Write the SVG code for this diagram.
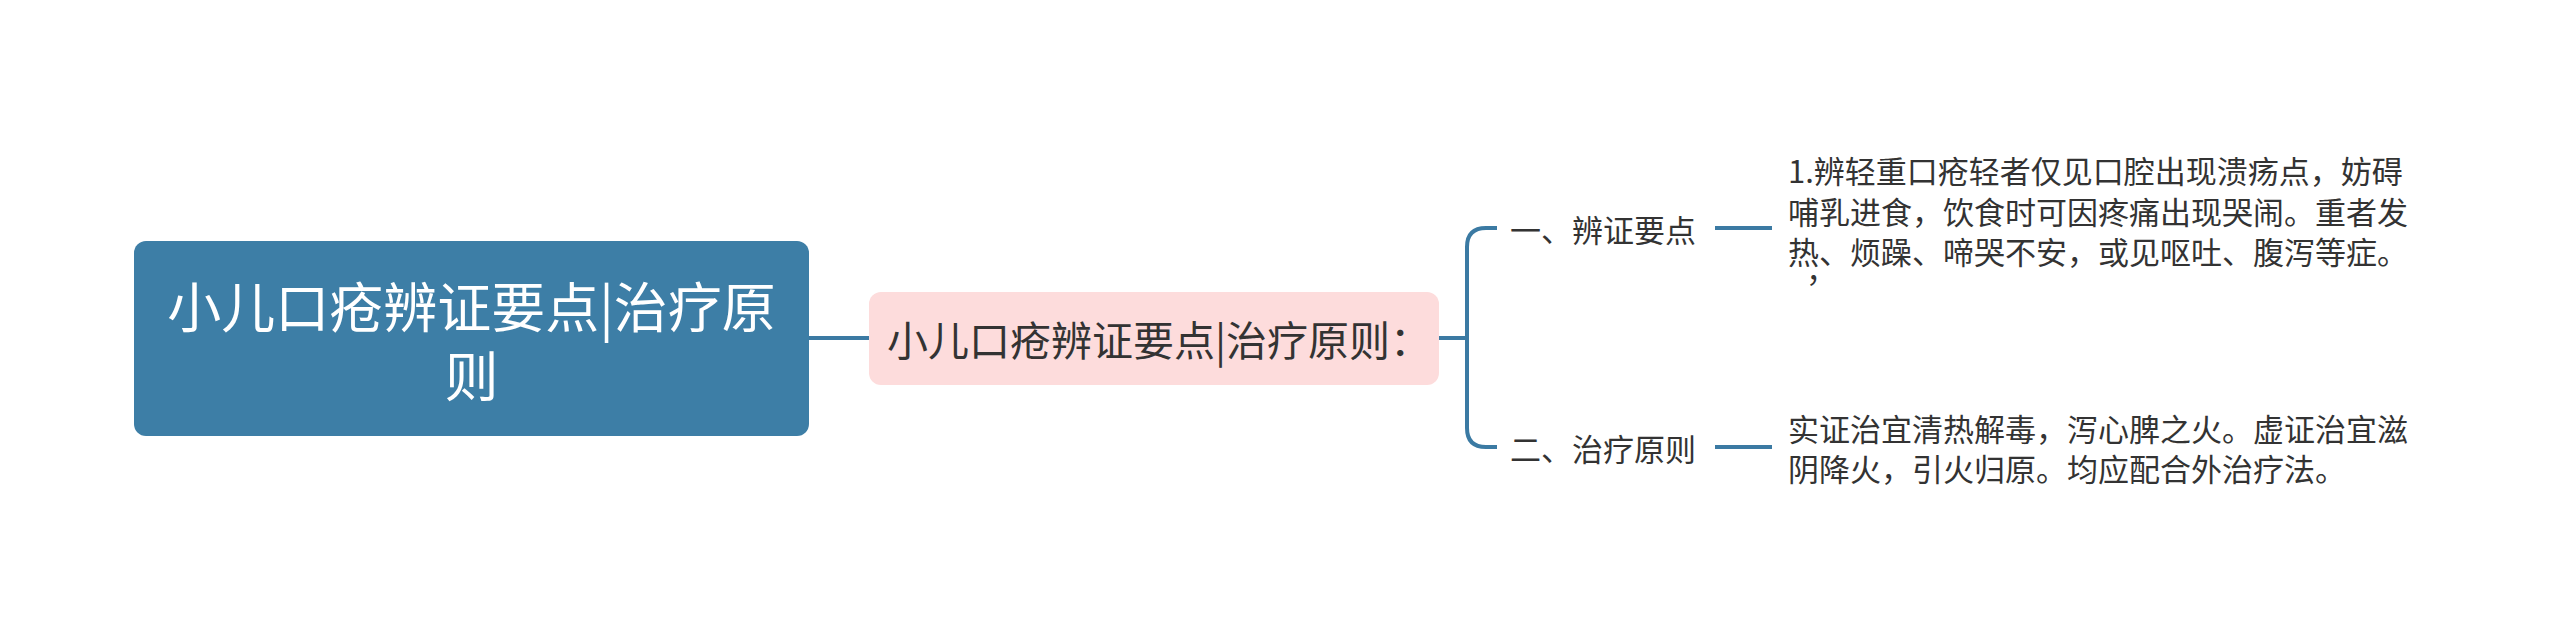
<svg xmlns="http://www.w3.org/2000/svg" width="2560" height="636" viewBox="0 0 2560 636">
<style>
.t{font-family:"Noto Sans CJK SC","Noto Sans",sans-serif;dominant-baseline:central}
.root{fill:#ffffff;font-size:54px}
.mid{fill:#333333;font-size:41px}
.br{fill:#333333;font-size:31px}
.leaf{fill:#333333;font-size:31px}
.c{fill:none;stroke:#3b7aa3;stroke-width:4;stroke-linecap:butt}
</style>
<rect width="2560" height="636" fill="#ffffff"/>
<g id="connectors">
<path class="c" d="M809,338 H869"/>
<path class="c" d="M1439,338 H1467"/>
<path class="c" d="M1497,228 H1486 Q1467,228 1467,247 V428 Q1467,447 1486,447 H1497"/>
<path class="c" d="M1715,228 H1772"/>
<path class="c" d="M1715,447 H1772"/>
</g>
<g id="root">
<rect x="134" y="241" width="675" height="195" rx="12" fill="#3d7ea6"/>
<text class="t root" x="471.5" y="304" text-anchor="middle">小儿口疮辨证要点|治疗原</text>
<text class="t root" x="471.5" y="373" text-anchor="middle">则</text>
</g>
<g id="mid">
<rect x="869" y="292" width="570" height="93" rx="12" fill="#fddcdc"/>
<text class="t mid" x="887" y="338">小儿口疮辨证要点|治疗原则：</text>
</g>
<g id="branch1">
<text class="t br" x="1510" y="228">一、辨证要点</text>
</g>
<g id="branch2">
<text class="t br" x="1510" y="447">二、治疗原则</text>
</g>
<g id="leaf1">
<text class="t leaf" x="1788" y="169">1.辨轻重口疮轻者仅见口腔出现溃疡点，妨碍</text>
<text class="t leaf" x="1788" y="210">哺乳进食，饮食时可因疼痛出现哭闹。重者发</text>
<text class="t leaf" x="1788" y="250">热、烦躁、啼哭不安，或见呕吐、腹泻等症。</text>
<text class="t leaf" x="1806" y="268">，</text>
</g>
<g id="leaf2">
<text class="t leaf" x="1788" y="427">实证治宜清热解毒，泻心脾之火。虚证治宜滋</text>
<text class="t leaf" x="1788" y="467">阴降火，引火归原。均应配合外治疗法。</text>
</g>
</svg>
